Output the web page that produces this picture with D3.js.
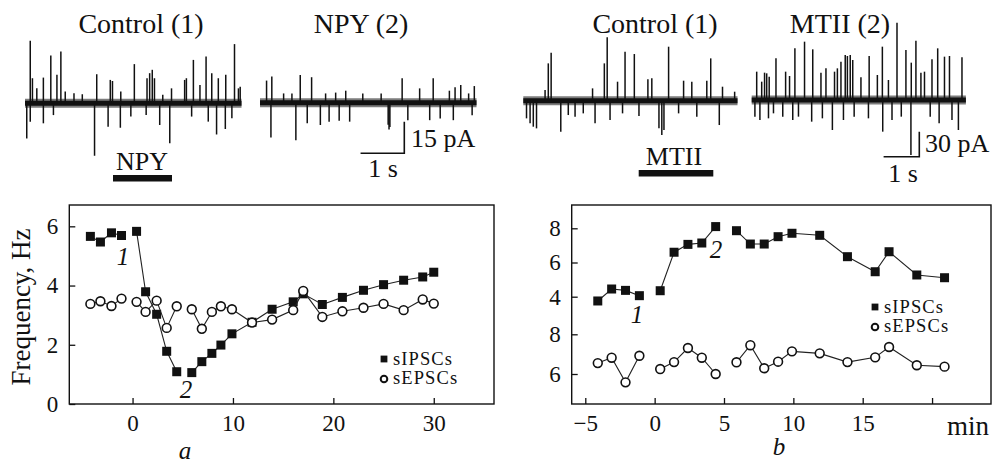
<!DOCTYPE html>
<html>
<head>
<meta charset="utf-8">
<script src="https://cdn.jsdelivr.net/npm/d3@7"></script>
<style>
body { margin: 0; background: #fff; }
text { font-family: "Liberation Serif", "Times New Roman", serif; fill: #111; }
</style>
</head>
<body>
<script>
// panel a : time (min) and frequency (Hz)
var timeA = [-4.2, -3.2, -2.1, -1.1, 0.4, 1.3, 2.4, 3.4, 4.4, 5.9, 6.9, 7.9, 8.8, 9.9, 11.9, 13.9, 16, 17, 18.9, 20.9, 23, 25, 27, 28.9, 30]
var ipscA = [5.66, 5.47, 5.78, 5.69, 5.83, 3.79, 3.03, 1.78, 1.09, 1.06, 1.43, 1.71, 1.99, 2.37, 2.76, 3.2, 3.45, 3.72, 3.36, 3.6, 3.84, 4.03, 4.18, 4.29, 4.45]
var epscA = [3.38, 3.47, 3.31, 3.56, 3.45, 3.11, 3.49, 2.57, 3.3, 3.2, 2.54, 3.11, 3.3, 3.2, 2.75, 2.85, 3.17, 3.82, 2.94, 3.13, 3.25, 3.38, 3.17, 3.53, 3.39]
var xTicksA = [0, 10, 20, 30]
var yTicksA = [0, 2, 4, 6]

// panel b
var timeB = [-4.1, -3.1, -2.1, -1.1, 0.4, 1.4, 2.4, 3.4, 4.4, 5.9, 6.9, 7.9, 8.9, 9.9, 11.9, 13.9, 15.9, 16.9, 18.9, 20.9]
var ipscB = [3.75, 4.45, 4.37, 4.06, 4.35, 6.6, 7.06, 7.14, 8.1, 7.86, 7.08, 7.08, 7.51, 7.71, 7.59, 6.34, 5.46, 6.63, 5.27, 5.11]
var epscB = [6.55, 6.82, 5.58, 6.92, 6.25, 6.6, 7.31, 6.82, 6.0, 6.59, 7.45, 6.29, 6.62, 7.14, 7.04, 6.6, 6.84, 7.36, 6.44, 6.37]
var xTicksB = [-5, 0, 5, 10, 15, 20]
var xLabelsB = ["\u22125", "0", "5", "10", "15", ""]
var yTicksBTop = [4, 6, 8]
var yTicksBBot = [6, 8]

// the lines are broken where drug goes on (min)
var breaks = [0, 5]

// spikes of the traces: [time s, amplitude pA]
var spikesA1 = [[0.12, 29.7], [0.17, 11.9], [0.27, 7.1], [0.42, 12.2], [0.59, 22.7], [0.73, 13.5], [0.82, 24.6], [0.92, 5.6],
  [1.12, 4.8], [1.31, 4.3], [1.64, 13.8], [1.95, 11.1], [2.0, 10.6], [2.19, 5.6], [2.5, 18.6], [2.79, 11.9], [2.85, 14.3],
  [2.91, 15.9], [2.96, 11.9], [3.15, 4.0], [3.35, 7.1], [3.65, 11.1], [3.69, 11.9], [3.85, 20.6], [4.0, 8.7], [4.14, 22.2],
  [4.27, 14.3], [4.42, 11.9], [4.59, 13.5], [4.79, 28.1], [4.88, 7.1], [4.92, 7.9],
  [0.04, -16.7], [0.12, -8.7], [0.42, -9.5], [0.65, -5.6], [1.59, -24.9], [1.9, -11.1], [2.18, -11.6], [2.42, -6.3],
  [2.77, -5.6], [3.08, -10.3], [3.31, -19.0], [3.81, -6.3], [4.19, -8.7], [4.38, -14.8], [4.58, -12.2], [4.73, -7.1]]
var spikesA2 = [[0.15, 10.5], [0.27, 12.4], [0.54, 4.4], [0.73, 4.4], [0.92, 13.2], [1.18, 12.1], [1.5, 4.4], [1.73, 4.8],
  [1.96, 5.7], [2.35, 4.4], [2.77, 4.4], [3.25, 11.6], [3.65, 6.8], [3.96, 11.6], [4.33, 5.7], [4.46, 7.3], [4.59, 8.4],
  [4.77, 4.4], [4.9, 7.9],
  [0.25, -16.5], [0.82, -17.8], [1.08, -9.8], [1.38, -10.6], [1.58, -9.0], [1.81, -8.6], [2.05, -9.0], [2.93, -10.5],
  [2.95, -12.7], [2.97, -11.5], [3.38, -8.3], [3.88, -8.3], [4.12, -7.5], [4.42, -8.3], [4.85, -5.9]]
var spikesB1 = [[0.61, 12.8], [0.7, 44.8], [0.78, 57.6], [1.94, 14.8], [2.27, 44.8], [2.35, 76], [2.64, 22.8], [2.85, 58.8],
  [3.11, 56], [3.49, 25.6], [3.6, 26.8], [4.07, 64.8], [4.49, 24], [4.72, 22.8], [5.14, 24], [5.25, 50.8], [5.58, 16.8], [5.92, 10.8],
  [0.09, -21.2], [0.19, -27.2], [0.28, -31.2], [0.37, -33.2], [1.05, -37.2], [1.26, -17.2], [1.45, -19.2], [1.68, -15.2],
  [2.01, -27.2], [2.43, -23.2], [2.78, -15.2], [3.24, -18.4], [3.8, -33.2], [3.88, -41.2], [3.94, -35.2], [4.35, -15.2],
  [4.86, -19.2], [5.49, -29.2]]
var spikesB2 = [[0.14, 34], [0.28, 22], [0.36, 32.8], [0.42, 32], [0.49, 28], [0.68, 50], [0.95, 34], [1.06, 28.8], [1.21, 62],
  [1.48, 70], [1.71, 60.8], [1.94, 32.8], [2.08, 38], [2.32, 34], [2.4, 38], [2.5, 46], [2.62, 54], [2.68, 52.8], [2.76, 54],
  [2.83, 48], [3.06, 27.2], [3.29, 52.8], [3.52, 30], [3.66, 64], [3.83, 24], [4.07, 92.8], [4.32, 60], [4.47, 44.8], [4.6, 71.2],
  [4.74, 32.8], [4.84, 34], [5.05, 48.8], [5.21, 62], [5.4, 52], [5.54, 52.8], [5.89, 51.2],
  [0.09, -20], [0.23, -24], [0.47, -22], [0.61, -16], [0.87, -20], [1.15, -24], [1.31, -20], [1.68, -26], [1.98, -22],
  [2.26, -36], [2.57, -24], [2.87, -20], [3.27, -22], [3.67, -38], [3.93, -24], [4.19, -20], [4.46, -66], [5.0, -20],
  [5.25, -28], [5.61, -24], [5.79, -36]]

var width = 992
var height = 463

var svg = d3.select("body").append("svg")
    .attr("width", width)
    .attr("height", height)

// ---------- traces on top ----------
function drawTrace(spikes, x0, x1, dur, base, pxPerBar, barPA) {
    var xs = d3.scaleLinear().domain([0, dur]).range([x0, x1])
    var ys = d3.scaleLinear().domain([0, barPA]).range([base, base - pxPerBar])
    var g = svg.append("g")
    // noise band: soft halo + dark core
    g.append("line")
        .attr("x1", xs(0)).attr("x2", xs(dur))
        .attr("y1", ys(0)).attr("y2", ys(0))
        .attr("stroke", "#111").attr("stroke-opacity", 0.55).attr("stroke-width", 9)
    g.append("line")
        .attr("x1", xs(0)).attr("x2", xs(dur))
        .attr("y1", ys(0)).attr("y2", ys(0))
        .attr("stroke", "#111").attr("stroke-width", 5)
    g.selectAll(".spike").data(spikes).enter().append("line")
        .attr("x1", function(d) { return xs(d[0]) })
        .attr("x2", function(d) { return xs(d[0]) })
        .attr("y1", ys(0))
        .attr("y2", function(d) { return ys(d[1]) })
        .attr("stroke", "#111").attr("stroke-width", 1.5)
    return {x: xs, y: ys}
}

var trA1 = drawTrace(spikesA1, 25, 241.5, 4.95, 103.3, 31.6, 15)
var trA2 = drawTrace(spikesA2, 260, 476.5, 4.95, 102.7, 31.6, 15)
var trB1 = drawTrace(spikesB1, 523.3, 737.5, 6, 100.7, 25, 30)
var trB2 = drawTrace(spikesB2, 751.7, 965.9, 6, 100, 25, 30)

// scale bars
function scaleBar(tr, xr, yb, barPA) {
    var h = tr.y(0) - tr.y(barPA)
    var w = tr.x(1) - tr.x(0)
    svg.append("path")
        .attr("d", "M" + (xr - w) + "," + yb + "H" + xr + "V" + (yb - h))
        .attr("fill", "none").attr("stroke", "#111").attr("stroke-width", 1.6)
}
scaleBar(trA2, 404.3, 153.3, 15)
scaleBar(trB2, 919.3, 156.7, 30)

function label(x, y, txt, size, anchor, italic) {
    return svg.append("text")
        .attr("x", x).attr("y", y)
        .attr("text-anchor", anchor || "middle")
        .attr("font-size", size)
        .attr("font-style", italic ? "italic" : null)
        .text(txt)
}

label(141, 33, "Control (1)", 28)
label(361, 33, "NPY (2)", 28)
label(655, 33, "Control (1)", 28)
label(840, 33, "MTII (2)", 28)
label(142, 170, "NPY", 26)
label(674, 165, "MTII", 26)
label(411, 147, "15 pA", 26, "start")
label(925, 152, "30 pA", 26, "start")
label(383, 177, "1 s", 26)
label(903, 182, "1 s", 26)

// drug bars
svg.append("rect").attr("x", 113).attr("y", 175).attr("width", 59).attr("height", 6.5).attr("fill", "#111")
svg.append("rect").attr("x", 638.7).attr("y", 170).attr("width", 74.6).attr("height", 6.5).attr("fill", "#111")

// ---------- frequency plots ----------
function segments(t, v) {
    var segs = [[]]
    t.forEach(function(d, i) {
        if (i > 0) {
            var cut = breaks.some(function(b) { return t[i - 1] < b && d > b })
            if (cut) segs.push([])
        }
        segs[segs.length - 1].push([d, v[i]])
    })
    return segs
}

function drawSeries(x, y, t, v, kind) {
    var line = d3.line().x(function(d) { return x(d[0]) }).y(function(d) { return y(d[1]) })
    svg.append("g").selectAll("path").data(segments(t, v)).enter().append("path")
        .attr("d", line).attr("fill", "none").attr("stroke", "#222").attr("stroke-width", 1.1)
    var pts = t.map(function(d, i) { return [d, v[i]] })
    if (kind == "square") {
        svg.append("g").selectAll("rect").data(pts).enter().append("rect")
            .attr("x", function(d) { return x(d[0]) - 4.5 })
            .attr("y", function(d) { return y(d[1]) - 4.5 })
            .attr("width", 9).attr("height", 9).attr("fill", "#111")
    } else {
        svg.append("g").selectAll("circle").data(pts).enter().append("circle")
            .attr("cx", function(d) { return x(d[0]) })
            .attr("cy", function(d) { return y(d[1]) })
            .attr("r", 4.4).attr("fill", "#fff").attr("stroke", "#111").attr("stroke-width", 1.6)
    }
}

function styleAxis(g) {
    g.select(".domain").remove()
    g.attr("font-size", 23).attr("color", "#111")
    g.selectAll("line").attr("stroke-width", 1.3)
}

function legend(x, y) {
    svg.append("rect").attr("x", x - 3.4).attr("y", y - 3.4).attr("width", 6.8).attr("height", 6.8).attr("fill", "#111")
    svg.append("circle").attr("cx", x).attr("cy", y + 20).attr("r", 3.3)
        .attr("fill", "#fff").attr("stroke", "#111").attr("stroke-width", 2)
    label(x + 9, y + 5.5, "sIPSCs", 18.5, "start").attr("letter-spacing", 1.1)
    label(x + 9, y + 25, "sEPSCs", 18.5, "start").attr("letter-spacing", 1.1)
}

var intFmt = d3.format("d")

// panel a
var xA = d3.scaleLinear().domain([-6.3, 36]).range([69.3, 494])
var yA = d3.scaleLinear().domain([0, 6.72]).range([404, 205])

svg.append("g").attr("transform", "translate(0,404)")
    .call(d3.axisBottom(xA).tickValues(xTicksA).tickFormat(intFmt).tickSizeInner(-6).tickSizeOuter(0).tickPadding(11))
    .call(styleAxis)
svg.append("g").attr("transform", "translate(69.3,0)")
    .call(d3.axisLeft(yA).tickValues(yTicksA).tickFormat(intFmt).tickSizeInner(-6).tickSizeOuter(0).tickPadding(11))
    .call(styleAxis)
svg.append("rect").attr("x", 69.3).attr("y", 205).attr("width", 494 - 69.3).attr("height", 199)
    .attr("fill", "none").attr("stroke", "#111").attr("stroke-width", 1.4)

drawSeries(xA, yA, timeA, ipscA, "square")
drawSeries(xA, yA, timeA, epscA, "circle")
legend(384, 359)

svg.append("text")
    .attr("transform", "translate(30,307) rotate(-90)")
    .attr("text-anchor", "middle").attr("font-size", 27)
    .text("Frequency, Hz")
label(123, 265, "1", 25, "middle", true)
label(186, 398, "2", 25, "middle", true)
label(185, 459, "a", 25, "middle", true)

// panel b (broken y axis: two scales)
var xB = d3.scaleLinear().domain([-5.98, 24.3]).range([571.7, 991.7])
var yBTop = d3.scaleLinear().domain([4, 8]).range([296.7, 228.3])
var yBBot = d3.scaleLinear().domain([6, 8]).range([374, 334.3])

svg.append("g").attr("transform", "translate(0,404)")
    .call(d3.axisBottom(xB).tickValues(xTicksB).tickFormat(function(d, i) { return xLabelsB[i] })
        .tickSizeInner(-6).tickSizeOuter(0).tickPadding(11))
    .call(styleAxis)
svg.append("g").attr("transform", "translate(571.7,0)")
    .call(d3.axisLeft(yBTop).tickValues(yTicksBTop).tickFormat(intFmt).tickSizeInner(-6).tickSizeOuter(0).tickPadding(11))
    .call(styleAxis)
svg.append("g").attr("transform", "translate(571.7,0)")
    .call(d3.axisLeft(yBBot).tickValues(yTicksBBot).tickFormat(intFmt).tickSizeInner(-6).tickSizeOuter(0).tickPadding(11))
    .call(styleAxis)
svg.append("rect").attr("x", 571.7).attr("y", 205).attr("width", 991 - 571.7).attr("height", 199)
    .attr("fill", "none").attr("stroke", "#111").attr("stroke-width", 1.4)

drawSeries(xB, yBTop, timeB, ipscB, "square")
drawSeries(xB, yBBot, timeB, epscB, "circle")
legend(875, 307)

label(968, 435, "min", 27)
label(637, 323, "1", 25, "middle", true)
label(716, 258, "2", 25, "middle", true)
label(779, 455, "b", 25, "middle", true)
</script>
</body>
</html>
